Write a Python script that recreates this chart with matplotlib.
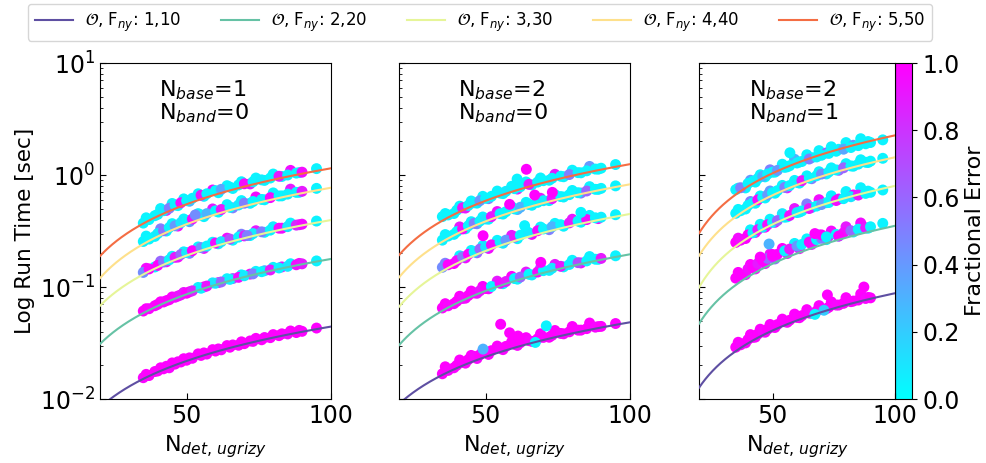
import numpy as np
import matplotlib
matplotlib.use("Agg")
import matplotlib.pyplot as plt

nan = np.nan

# Number of ugrizy detections at which run times were sampled (two interleaved batches)
n_det = [35, 37, 40, 42, 44, 46, 48, 50, 52, 55, 57, 60, 62, 65, 68, 70,
         73, 76, 79, 82, 85, 88, 90, 95]
n_det_b = [36, 39, 41, 43, 45, 47, 49, 51, 54, 56, 59, 61, 64, 66, 69, 72,
           74, 77, 80, 83, 86, 89]

# Nyquist-factor configurations (oversampling, F_ny)
fny_labels = ["1,10", "2,20", "3,30", "4,40", "5,50"]
line_colors = ["#5e4fa2", "#66c2a5", "#e6f598", "#fee08b", "#f46d43"]

# Model terms per panel: (N_base, N_band)
panel_terms = [(1, 0), (2, 0), (2, 1)]

# Linear run-time fits t = slope * N + intercept
fit_slope_p1 = [0.000449, 0.0018375, 0.0041, 0.008125, 0.011988]
fit_icept_p1 = [-0.00058, -0.00575, -0.014, -0.0425, -0.05075]
fit_slope_p2 = [0.0004925, 0.002071, 0.004779, 0.0088, 0.013213]
fit_icept_p2 = [-0.00083, -0.01113, -0.02888, -0.054, -0.07125]
fit_slope_p3 = [0.0009425, 0.0038125, 0.0087625, 0.015625, 0.024475]
fit_icept_p3 = [-0.00625, -0.02925, -0.07625, -0.1225, -0.1875]

# Measured run times [sec], batch A, one row per F_ny configuration
runtime_p1 = [
    [0.0155, 0.0162, 0.0178, 0.0186, 0.0190, 0.0205, 0.0214, 0.0222, 0.0231, 0.0245, 0.0252, 0.0268,
     0.0275, 0.0290, 0.0302, 0.0312, 0.0327, 0.0338, 0.0353, 0.0368, 0.0381, 0.0392, 0.0402, 0.0430],
    [0.0610, 0.0640, 0.0700, 0.0735, 0.0770, 0.0810, 0.0850, 0.0880, 0.0925, 0.0975, 0.1020, 0.1080,
     0.1110, 0.1170, 0.1220, 0.1260, 0.1310, 0.1370, 0.1420, 0.1480, 0.1530, 0.1580, 0.1610, 0.1710],
    [0.135, 0.145, 0.156, 0.167, 0.175, 0.184, 0.195, 0.203, 0.211, 0.225, 0.232, 0.247,
     0.254, 0.268, 0.279, 0.286, 0.300, 0.311, 0.322, 0.335, 0.346, 0.357, 0.364, 0.388],
    [0.255, 0.268, 0.300, 0.318, 0.340, 0.352, 0.375, 0.393, 0.405, 0.440, 0.452, 0.478,
     0.492, 0.515, 0.540, 0.560, 0.580, 0.605, 0.628, 0.650, 0.675, 0.700, 0.715, 0.760],
    [0.372, 0.400, 0.445, 0.480, 0.505, 0.540, 0.565, 0.590, 0.620, 0.660, 0.680, 0.725,
     0.745, 0.780, 0.815, 0.835, 0.870, 0.905, 0.940, 0.975, 1.000, 1.040, 1.060, 1.140],
]
runtime_p2 = [
    [0.0168, 0.0180, 0.0200, 0.0212, 0.0225, 0.0240, 0.0248, 0.0262, 0.0270, 0.0285, 0.0295, 0.0308,
     0.0318, 0.0332, 0.0345, 0.0355, 0.0370, 0.0385, 0.0398, 0.0412, 0.0425, 0.0438, 0.0445, 0.0472],
    [0.0650, 0.0680, 0.0745, 0.0790, 0.0840, 0.0885, 0.0925, 0.0970, 0.1010, 0.1080, 0.1120, 0.1190,
     0.1225, 0.1300, 0.1360, 0.1400, 0.1470, 0.1530, 0.1590, 0.1650, 0.1710, 0.1770, 0.1800, 0.1900],
    [0.150, 0.158, 0.172, 0.186, 0.196, 0.206, 0.218, 0.228, 0.238, 0.252, 0.262, 0.280,
     0.290, 0.305, 0.318, 0.330, 0.345, 0.360, 0.374, 0.388, 0.400, 0.415, 0.420, 0.442],
    [0.262, 0.285, 0.312, 0.330, 0.352, 0.370, 0.388, 0.405, 0.425, 0.452, 0.470, 0.498,
     0.515, 0.545, 0.570, 0.590, 0.615, 0.642, 0.668, 0.695, 0.720, 0.745, 0.760, 0.800],
    [0.425, 0.440, 0.485, 0.510, 0.535, 0.565, 0.590, 0.620, 0.645, 0.690, 0.715, 0.755,
     0.785, 0.825, 0.865, 0.890, 0.935, 0.975, 1.010, 1.050, 1.090, 1.130, 1.150, 1.240],
]
runtime_p3 = [
    [0.0290, 0.0305, 0.0340, 0.0355, 0.0380, 0.0398, 0.0420, 0.0440, 0.0462, 0.0490, 0.0505, 0.0535,
     0.0555, 0.0585, 0.0610, 0.0630, 0.0660, 0.0690, 0.0715, 0.0740, 0.0765, 0.0790, 0.0800, nan],
    [0.120, 0.128, 0.145, 0.150, 0.162, 0.172, 0.180, 0.188, 0.196, 0.210, 0.218, 0.232,
     0.240, 0.252, 0.265, 0.272, 0.285, 0.295, 0.305, 0.318, 0.328, 0.338, 0.345, 0.370],
    [0.250, 0.262, 0.292, 0.305, 0.325, 0.342, 0.360, 0.378, 0.392, 0.420, 0.435, 0.462,
     0.478, 0.502, 0.528, 0.545, 0.568, 0.592, 0.615, 0.640, 0.662, 0.685, 0.700, 0.735],
    [0.455, 0.480, 0.535, 0.565, 0.600, 0.630, 0.665, 0.695, 0.725, 0.775, 0.805, 0.860,
     0.890, 0.940, 0.985, 1.020, 1.065, 1.110, 1.160, 1.205, 1.250, 1.300, 1.330, 1.410],
    [0.740, 0.770, 0.840, 0.880, 0.930, 0.975, 1.020, 1.060, 1.100, 1.170, 1.210, 1.280,
     1.320, 1.390, 1.450, 1.500, 1.560, 1.630, 1.700, 1.760, 1.830, 1.900, 1.950, 2.060],
]

# Measured run times [sec], batch B
runtime_p1_b = [
    [0.0166, 0.0176, 0.0190, 0.0196, 0.0210, 0.0215, 0.0229, 0.0233, 0.0253, 0.0258, 0.0276,
     0.0280, 0.0300, 0.0304, 0.0324, 0.0330, 0.0348, 0.0354, 0.0376, 0.0382, 0.0405, 0.0410],
    [0.0640, 0.0680, 0.0738, 0.0755, 0.0815, 0.0830, 0.0894, 0.0906, 0.0991, 0.1001, 0.1089,
     0.1095, 0.1186, 0.1190, 0.1283, 0.1304, 0.1380, 0.1398, 0.1498, 0.1512, 0.1614, 0.1625],
    [0.147, 0.151, 0.170, 0.168, 0.188, 0.185, 0.206, 0.200, 0.228, 0.221, 0.251,
     0.243, 0.273, 0.262, 0.296, 0.288, 0.318, 0.308, 0.345, 0.335, 0.372, 0.360],
    [0.285, 0.283, 0.331, 0.316, 0.368, 0.350, 0.405, 0.383, 0.452, 0.425, 0.498,
     0.467, 0.544, 0.509, 0.591, 0.559, 0.637, 0.601, 0.692, 0.651, 0.748, 0.701],
    [0.415, 0.433, 0.502, 0.483, 0.557, 0.533, 0.612, 0.583, 0.680, 0.645, 0.735,
     0.695, 0.803, 0.758, 0.871, 0.832, 0.940, 0.895, 1.020, 0.970, 1.100, 1.050],
]
runtime_p2_b = [
    [0.0194, 0.0190, 0.0223, 0.0209, 0.0245, 0.0230, 0.0268, 0.0250, 0.0297, 0.0276, 0.0324,
     0.0301, 0.0353, 0.0327, 0.0382, 0.0356, 0.0409, 0.0382, 0.0444, 0.0412, 0.0477, 0.0443],
    [0.0710, 0.0710, 0.0827, 0.0795, 0.0920, 0.0879, 0.1012, 0.0964, 0.1128, 0.1070, 0.1244,
     0.1175, 0.1360, 0.1281, 0.1476, 0.1408, 0.1592, 0.1513, 0.1732, 0.1640, 0.1870, 0.1767],
    [0.163, 0.162, 0.190, 0.182, 0.212, 0.202, 0.234, 0.221, 0.261, 0.246, 0.289,
     0.270, 0.316, 0.295, 0.343, 0.325, 0.370, 0.349, 0.403, 0.379, 0.436, 0.408],
    [0.294, 0.295, 0.344, 0.331, 0.383, 0.367, 0.422, 0.403, 0.472, 0.448, 0.521,
     0.492, 0.570, 0.537, 0.620, 0.591, 0.669, 0.636, 0.728, 0.690, 0.787, 0.744],
    [0.453, 0.453, 0.527, 0.507, 0.586, 0.561, 0.645, 0.615, 0.719, 0.682, 0.793,
     0.749, 0.867, 0.817, 0.941, 0.898, 1.015, 0.965, 1.104, 1.046, 1.193, 1.127],
]
runtime_p3_b = [
    [0.0321, 0.0317, 0.0376, 0.0357, 0.0420, 0.0395, 0.0463, 0.0435, 0.0517, 0.0484, 0.0573,
     0.0532, 0.0628, 0.0582, 0.0682, 0.0641, 0.0737, 0.0690, 0.0803, 0.0749, 0.0868, 0.0807],
    [0.135, 0.129, 0.159, 0.145, 0.178, 0.162, 0.197, 0.178, 0.221, 0.199, 0.245,
     0.220, 0.269, 0.240, 0.292, 0.265, 0.316, 0.285, 0.345, 0.310, 0.373, 0.335],
    [0.273, 0.271, 0.324, 0.307, 0.363, 0.342, 0.403, 0.378, 0.452, 0.423, 0.502,
     0.467, 0.552, 0.512, 0.602, 0.566, 0.652, 0.610, 0.712, 0.664, 0.770, 0.718],
    [0.493, 0.497, 0.580, 0.560, 0.650, 0.624, 0.720, 0.688, 0.808, 0.768, 0.895,
     0.847, 0.983, 0.927, 1.070, 1.023, 1.158, 1.102, 1.263, 1.198, 1.368, 1.293],
    [0.763, 0.767, 0.898, 0.865, 1.005, 0.963, 1.113, 1.061, 1.248, 1.183, 1.382,
     1.306, 1.517, 1.428, 1.651, 1.575, 1.786, 1.697, 1.948, 1.844, 2.109, 1.991],
]

# Fractional error of the recovered period for each run, batch A
frac_err_p1 = [
    [0.98, 1.0, 0.99, 1.0, 0.97, 1.0, 0.99, 1.0, 0.98, 1.0, 0.99, 1.0,
     0.97, 1.0, 0.99, 1.0, 0.98, 1.0, 0.99, 1.0, 0.97, 1.0, 0.99, 1.0],
    [1.0, 0.98, 1.0, 0.97, 1.0, 0.95, 0.9, 1.0, 0.85, 0.05, 0.92, 0.1,
     0.6, 0.05, 0.95, 0.08, 0.5, 0.03, 0.9, 0.05, 0.1, 0.95, 0.9, 0.05],
    [0.45, 0.98, 1.0, 0.55, 0.05, 0.9, 0.6, 0.08, 1.0, 0.45, 0.05, 0.95,
     0.1, 0.7, 0.05, 0.9, 0.08, 0.5, 0.05, 0.95, 0.1, 0.85, 0.95, 0.05],
    [0.05, 0.03, 0.08, 0.55, 0.05, 0.4, 0.1, 0.05, 0.95, 0.05, 0.3, 0.03,
     0.9, 0.05, 0.08, 0.5, 0.03, 0.05, 0.95, 0.04, 0.06, 0.05, 0.9, 0.05],
    [0.05, 0.03, 0.05, 0.08, 0.5, 0.05, 0.95, 0.04, 0.06, 0.9, 0.05, 0.03,
     0.35, 0.05, 0.04, 0.95, 0.05, 0.07, 0.03, 0.9, 0.05, 0.04, 0.95, 0.05],
]
frac_err_p2 = [
    [1.0, 0.98, 1.0, 0.99, 1.0, 0.97, 1.0, 0.99, 1.0, 0.98, 1.0, 0.99,
     1.0, 0.97, 1.0, 0.99, 1.0, 0.98, 1.0, 0.99, 1.0, 0.97, 1.0, 0.99],
    [1.0, 0.98, 1.0, 0.95, 1.0, 0.97, 0.92, 1.0, 0.05, 0.95, 0.9, 0.05,
     0.6, 0.03, 0.95, 0.05, 0.1, 0.9, 0.05, 0.7, 0.04, 0.05, 0.9, 0.05],
    [0.45, 1.0, 0.95, 0.5, 1.0, 0.05, 0.6, 0.1, 0.95, 0.05, 0.4, 0.9,
     0.05, 0.08, 0.95, 0.05, 0.3, 0.05, 0.9, 0.04, 0.95, 0.05, 0.06, 0.05],
    [0.05, 0.05, 0.03, 0.95, 0.05, 0.5, 0.05, 0.1, 0.9, 0.05, 0.04, 0.06,
     0.3, 0.05, 0.03, 0.08, 0.9, 0.05, 0.04, 0.05, 0.6, 0.03, 0.05, 0.05],
    [0.05, 0.04, 0.05, 0.9, 0.06, 0.05, 0.4, 0.05, 0.03, 0.05, 0.08, 0.05,
     0.04, 0.9, 0.05, 0.03, 0.06, 0.05, 0.5, 0.05, 0.04, 0.05, 0.03, 0.05],
]
frac_err_p3 = [
    [1.0, 0.98, 1.0, 0.99, 1.0, 0.97, 1.0, 0.99, 1.0, 0.98, 1.0, 0.99,
     1.0, 0.97, 1.0, 0.99, 1.0, 0.98, 1.0, 0.99, 1.0, 0.97, 1.0, 1.0],
    [1.0, 1.0, 0.95, 1.0, 0.9, 1.0, 0.6, 0.95, 1.0, 0.05, 0.9, 0.4,
     0.05, 0.95, 0.05, 0.5, 0.9, 0.05, 0.95, 0.6, 0.05, 0.9, 0.05, 0.05],
    [1.0, 0.95, 1.0, 0.05, 0.9, 0.1, 0.95, 0.05, 0.6, 0.05, 0.95, 0.08,
     0.05, 0.9, 0.05, 0.4, 0.05, 0.95, 0.05, 0.1, 0.9, 0.05, 0.05, 0.05],
    [0.05, 0.04, 0.05, 0.05, 0.95, 0.05, 0.4, 0.05, 0.03, 0.5, 0.05, 0.06,
     0.9, 0.05, 0.04, 0.45, 0.05, 0.05, 0.6, 0.04, 0.05, 0.05, 0.03, 0.05],
    [0.05, 0.5, 0.05, 0.04, 0.05, 0.3, 0.05, 0.06, 0.4, 0.05, 0.03, 0.05,
     0.05, 0.5, 0.05, 0.04, 0.05, 0.05, 0.35, 0.05, 0.04, 0.05, 0.05, 0.05],
]

# Fractional error, batch B
frac_err_p1_b = [
    [1.0, 0.98, 1.0, 0.99, 1.0, 0.97, 1.0, 0.99, 1.0, 0.98, 1.0,
     0.99, 1.0, 0.97, 1.0, 0.99, 1.0, 0.98, 1.0, 0.99, 1.0, 0.97],
    [1.0, 0.97, 1.0, 0.95, 1.0, 0.98, 0.9, 1.0, 0.05, 0.95, 0.08,
     0.9, 0.05, 0.6, 0.05, 0.95, 0.05, 0.3, 0.05, 0.9, 0.05, 0.95],
    [0.95, 0.05, 0.6, 1.0, 0.05, 0.95, 0.08, 0.5, 0.05, 0.9, 0.05,
     0.1, 0.95, 0.05, 0.5, 0.05, 0.9, 0.05, 0.08, 0.95, 0.05, 0.9],
    [0.05, 0.05, 0.5, 0.05, 0.03, 0.95, 0.05, 0.4, 0.05, 0.05, 0.9,
     0.05, 0.03, 0.5, 0.05, 0.05, 0.95, 0.04, 0.05, 0.05, 0.9, 0.05],
    [0.05, 0.05, 0.05, 0.9, 0.05, 0.04, 0.05, 0.3, 0.05, 0.05, 0.95,
     0.05, 0.04, 0.05, 0.06, 0.9, 0.05, 0.04, 0.05, 0.05, 0.95, 0.05],
]
frac_err_p2_b = [
    [1.0, 0.98, 1.0, 0.99, 1.0, 0.97, 1.0, 0.99, 1.0, 0.98, 1.0,
     0.99, 1.0, 0.97, 1.0, 0.99, 1.0, 0.98, 1.0, 0.99, 1.0, 0.97],
    [1.0, 0.95, 1.0, 0.97, 1.0, 0.9, 1.0, 0.95, 0.9, 0.05, 1.0,
     0.05, 0.9, 0.05, 0.6, 0.05, 0.9, 0.05, 0.05, 0.95, 0.05, 0.05],
    [0.5, 1.0, 0.05, 0.95, 0.05, 0.6, 0.05, 0.95, 0.05, 0.1, 0.9,
     0.05, 0.05, 0.95, 0.05, 0.5, 0.05, 0.05, 0.9, 0.05, 0.05, 0.95],
    [0.05, 0.05, 0.9, 0.05, 0.05, 0.4, 0.05, 0.05, 0.95, 0.05, 0.05,
     0.3, 0.05, 0.05, 0.9, 0.05, 0.04, 0.05, 0.05, 0.5, 0.05, 0.05],
    [0.05, 0.05, 0.05, 0.9, 0.05, 0.05, 0.05, 0.5, 0.05, 0.05, 0.05,
     0.9, 0.05, 0.05, 0.05, 0.05, 0.9, 0.05, 0.05, 0.05, 0.4, 0.05],
]
frac_err_p3_b = [
    [1.0, 0.98, 1.0, 0.99, 1.0, 0.97, 1.0, 0.99, 1.0, 0.98, 1.0,
     0.99, 1.0, 0.05, 1.0, 0.99, 1.0, 0.98, 1.0, 0.99, 1.0, 0.97],
    [1.0, 0.95, 1.0, 1.0, 0.9, 1.0, 0.95, 0.6, 1.0, 0.9, 0.05,
     0.95, 0.05, 0.9, 0.5, 0.05, 0.95, 0.05, 0.9, 0.05, 0.95, 0.05],
    [0.95, 1.0, 0.05, 0.9, 0.05, 1.0, 0.05, 0.95, 0.1, 0.05, 0.9,
     0.05, 0.5, 0.05, 0.95, 0.05, 0.05, 0.9, 0.05, 0.95, 0.05, 0.05],
    [0.05, 0.05, 0.5, 0.05, 0.05, 0.05, 0.4, 0.05, 0.05, 0.9, 0.05,
     0.05, 0.05, 0.5, 0.05, 0.05, 0.05, 0.6, 0.05, 0.05, 0.05, 0.05],
    [0.05, 0.05, 0.4, 0.05, 0.05, 0.05, 0.5, 0.05, 0.05, 0.05, 0.3,
     0.05, 0.05, 0.05, 0.05, 0.6, 0.05, 0.05, 0.05, 0.4, 0.05, 0.05],
]

# Individual runs far from the bulk of each configuration
outlier_n_p1 = [53, 71]
outlier_t_p1 = [0.440, 0.288]
outlier_err_p1 = [0.45, 0.5]

outlier_n_p2 = [55.2, 58.3, 61.2, 49.1, 67.2, 69.1, 49.1, 83.0, 63.5, 67.0, 73.1, 58.3, 64.1, 60.9, 71.0]
outlier_t_p2 = [0.0465, 0.039, 0.0365, 0.0279, 0.032, 0.166, 0.287, 0.464, 0.353, 0.662, 0.70, 0.547,
                1.125, 0.92, 0.045]
outlier_err_p2 = [1.0, 1.0, 1.0, 0.3, 0.05, 1.0, 1.0, 0.03, 0.05, 1.0, 1.0, 1.0, 1.0, 0.05, 0.05]

outlier_n_p3 = [87.3, 72.4, 67.3, 71.0, 48.6, 67.3, 70.0, 77.0, 72.0, 57.1, 45.0, 50.0]
outlier_t_p3 = [0.100, 0.085, 0.057, 0.062, 0.242, 0.300, 0.292, 0.285, 0.280, 1.58, 0.185, 0.195]
outlier_err_p3 = [1.0, 1.0, 0.05, 0.2, 0.3, 1.0, 1.0, 1.0, 0.05, 0.05, 1.0, 1.0]

panels = [
    (runtime_p1, frac_err_p1, runtime_p1_b, frac_err_p1_b, fit_slope_p1, fit_icept_p1,
     outlier_n_p1, outlier_t_p1, outlier_err_p1),
    (runtime_p2, frac_err_p2, runtime_p2_b, frac_err_p2_b, fit_slope_p2, fit_icept_p2,
     outlier_n_p2, outlier_t_p2, outlier_err_p2),
    (runtime_p3, frac_err_p3, runtime_p3_b, frac_err_p3_b, fit_slope_p3, fit_icept_p3,
     outlier_n_p3, outlier_t_p3, outlier_err_p3),
]

fig = plt.figure(figsize=(9.87, 4.63), dpi=100)
ax_rects = [
    [0.1013, 0.1382, 0.2340, 0.7257],
    [0.4043, 0.1382, 0.2340, 0.7257],
    [0.7082, 0.1382, 0.1986, 0.7257],
]
cax = fig.add_axes([0.9068, 0.1382, 0.0175, 0.7257])

marker_area = 62
scatter_kw = dict(cmap="cool", vmin=0, vmax=1, s=marker_area, edgecolors="none", zorder=2)
n_grid = np.linspace(20, 100, 300)
legend_handles = []
for k, (rect, data, terms) in enumerate(zip(ax_rects, panels, panel_terms)):
    rt_a, err_a, rt_b, err_b, slopes, icepts, on, ot, oe = data
    ax = fig.add_axes(rect)
    for j in range(len(fny_labels)):
        ax.scatter(n_det_b, rt_b[j], c=err_b[j], **scatter_kw)
        sc = ax.scatter(n_det, rt_a[j], c=err_a[j], **scatter_kw)
    ax.scatter(on, ot, c=oe, **scatter_kw)
    for j, lab in enumerate(fny_labels):
        ln, = ax.plot(n_grid, slopes[j] * n_grid + icepts[j], color=line_colors[j], lw=1.5,
                      zorder=3, label=r"$\mathcal{O}$, F$_{ny}$: " + lab)
        if k == 0:
            legend_handles.append(ln)
    ax.set_yscale("log")
    ax.set_xlim(20, 100)
    ax.set_ylim(1e-2, 1e1)
    ax.set_xticks([50, 100])
    ax.tick_params(axis="both", which="both", direction="in", labelsize=17)
    ax.tick_params(axis="both", which="major", length=4)
    ax.tick_params(axis="both", which="minor", length=2)
    if k > 0:
        ax.set_yticklabels([])
    else:
        ax.set_ylabel("Log Run Time [sec]", fontsize=15.5)
    ax.set_xlabel(r"N$_{det,\,ugrizy}$", fontsize=16)
    ax.text(0.255, 0.955, "N$_{base}$=%d\nN$_{band}$=%d" % terms, transform=ax.transAxes,
            ha="left", va="top", fontsize=16, linespacing=1.0)

cb = fig.colorbar(sc, cax=cax)
cb.set_ticks([0.0, 0.2, 0.4, 0.6, 0.8, 1.0])
cb.ax.tick_params(labelsize=17)
cb.set_label("Fractional Error", fontsize=16)

fig.legend(handles=legend_handles, loc="upper left", bbox_to_anchor=(0.0284, 0.9914),
           borderaxespad=0.0, ncol=5, fontsize=12, handlelength=2.3, handletextpad=0.7,
           columnspacing=2.4, frameon=True)

fig.savefig("out.png", dpi=100)
